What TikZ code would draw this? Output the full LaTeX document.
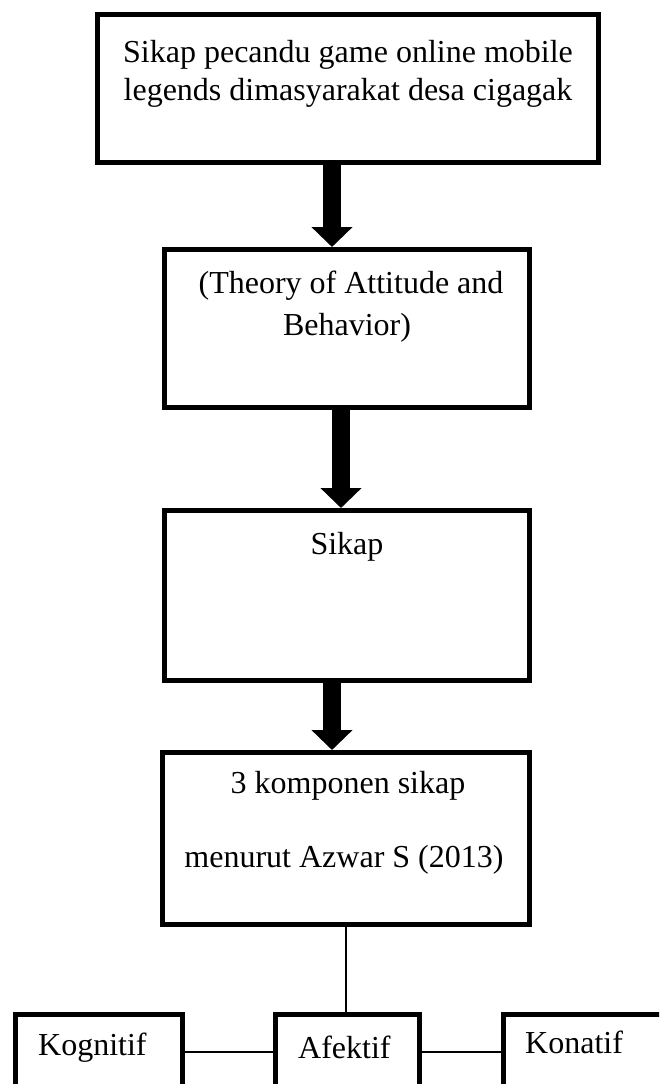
\documentclass[tikz,border=0pt]{standalone}
\usepackage{fontspec}
\setmainfont{Liberation Serif}
\usetikzlibrary{arrows.meta}
\begin{document}
\begin{tikzpicture}[x=1pt,y=-1pt,
  box/.style={draw=black,line width=5pt,rectangle,inner sep=0pt},
  txt/.style={inner sep=0pt,anchor=base,font=\fontsize{32}{38}\selectfont},
  txtl/.style={inner sep=0pt,anchor=base west,font=\fontsize{32}{38}\selectfont},
  fat/.style={line width=18pt,-{Triangle[width=40pt,length=20pt]}},
  link/.style={line width=2pt}]
\useasboundingbox (0,0) rectangle (659,1084);
\clip (0,0) rectangle (659,1084);
\fill[white] (0,0) rectangle (659,1084);
% boxes
\node[box,minimum width=501pt,minimum height=148pt] (b1) at (348,88.5) {};
\node[box,minimum width=365pt,minimum height=158pt] (b2) at (347,328.5) {};
\node[box,minimum width=365pt,minimum height=170pt] (b3) at (347,595.5) {};
\node[box,minimum width=367pt,minimum height=172pt] (b4) at (346,838.5) {};
\node[box,minimum width=167pt,minimum height=75pt] (kg) at (99,1052) {};
\node[box,minimum width=144pt,minimum height=75pt] (af) at (347.5,1052) {};
\node[box,minimum width=200pt,minimum height=75pt] (kn) at (603.5,1052) {};
% texts
\node[txt] (t1a) at (348,62) {Sikap pecandu game online mobile};
\node[txt] (t1b) at (348,100) {legends dimasyarakat desa cigagak};
\node[txt] (t2a) at (351,293) {(Theory of Attitude and};
\node[txt] (t2b) at (347,335) {Behavior)};
\node[txt] (t3) at (347,554) {Sikap};
\node[txt] (t4a) at (348,793) {3 komponen sikap};
\node[txt] (t4b) at (344,867) {menurut Azwar S (2013)};
\node[txtl] (tk) at (38,1055) {Kognitif};
\node[txtl] (ta) at (298,1058) {Afektif};
\node[txtl] (tn) at (525,1053) {Konatif};
% arrows
\coordinate (a1) at (332,0);
\coordinate (a2) at (341,0);
\coordinate (a3) at (332,0);
\draw[fat] (b1.south -| a1) -- (b2.north -| a1);
\draw[fat] (b2.south -| a2) -- (b3.north -| a2);
\draw[fat] (b3.south -| a3) -- (b4.north -| a3);
% links
\draw[link] (b4.south) -- (b4.south |- af.north);
\draw[link] (kg.east) -- (af.west);
\draw[link] (af.east) -- (kn.west);
\end{tikzpicture}
\end{document}
